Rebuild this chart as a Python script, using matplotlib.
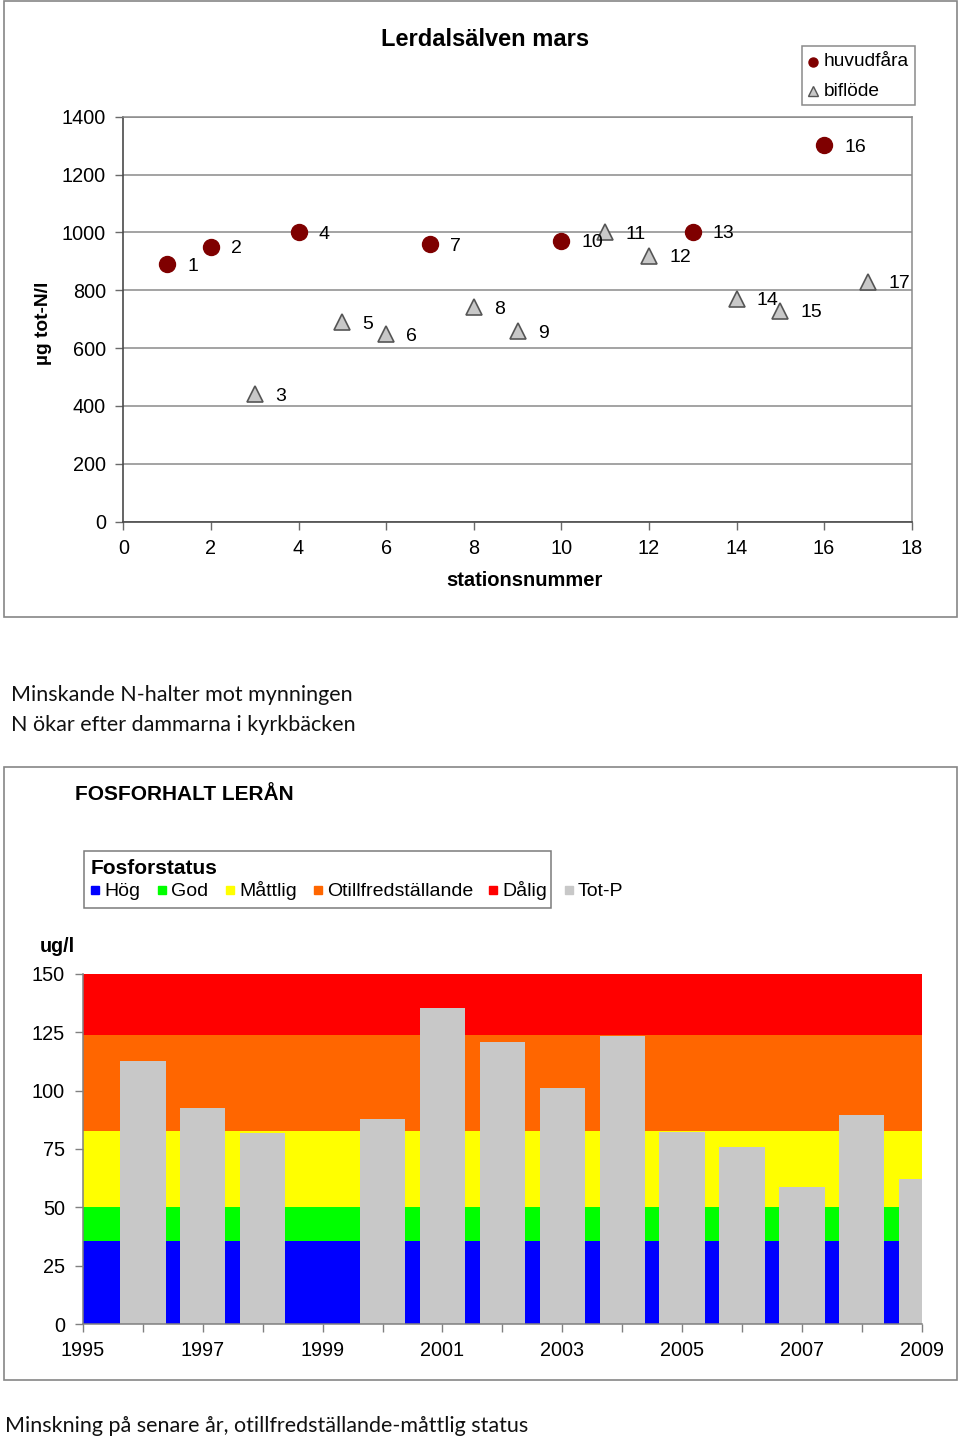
import numpy as np
import matplotlib
matplotlib.use('Agg')
import matplotlib.pyplot as plt
from matplotlib.patches import Rectangle
from matplotlib.lines import Line2D

# ---------------- data ----------------
# Top chart: total nitrogen, Lerdalsälven in March
huvud_stations = [1, 2, 4, 7, 10, 13, 16]
huvud_values = [890, 950, 1000, 960, 971, 1002, 1301]
biflode_stations = [3, 5, 6, 8, 9, 11, 12, 14, 15, 17]
biflode_values = [441, 690, 649, 741, 659, 1001, 920, 771, 730, 830]
top_xticks = list(range(0, 19, 2))
top_yticks = list(range(0, 1401, 200))

# Bottom chart: phosphorus, Lerån
years = list(range(1995, 2010))
totp = [np.nan, 112.7, 92.7, 82.0, np.nan, 88.0, 135.6, 120.7, 101.0, 123.3,
        82.2, 75.7, 58.9, 89.6, 62.3]
band_edges = [0, 35.5, 50, 82.6, 124, 150]
band_labels = ['Hög', 'God', 'Måttlig', 'Otillfredställande', 'Dålig']
band_colors = ['#0000FF', '#00FF00', '#FFFF00', '#FF6600', '#FF0000']
totp_label = 'Tot-P'
totp_color = '#C8C8C8'
bottom_yticks = list(range(0, 151, 25))

# ---------------- figure ----------------
W, H = 960, 1440
plt.rcParams['font.family'] = ['Liberation Sans', 'DejaVu Sans']
fig = plt.figure(figsize=(W / 100, H / 100), dpi=100)
fig.patch.set_facecolor('white')


def fx(x):
    return x / W


def fy(y):
    return 1 - y / H


def box(x0, y0, x1, y1, color='#868686', lw=1.2):
    r = Rectangle((fx(x0), fy(y1)), (x1 - x0) / W, (y1 - y0) / H, fill=False,
                  edgecolor=color, linewidth=lw, transform=fig.transFigure)
    fig.add_artist(r)


# outer frames
box(4, 1, 957, 617)
box(4, 767, 957, 1380)

# ---------------- top chart ----------------
ax1 = fig.add_axes([fx(123.3), fy(521.7), (911.7 - 123.3) / W, 405 / H])
ax1.set_xlim(0, 18)
ax1.set_ylim(0, 1400)
ax1.set_xticks(top_xticks)
ax1.set_yticks(top_yticks)
ax1.yaxis.grid(True, color='#8a8a8a', linewidth=1.1)
ax1.set_axisbelow(True)
for s in ['top', 'right']:
    ax1.spines[s].set_color('#8a8a8a')
    ax1.spines[s].set_linewidth(1.1)
for s in ['left', 'bottom']:
    ax1.spines[s].set_color('#4a4a4a')
    ax1.spines[s].set_linewidth(1.2)
ax1.tick_params(axis='both', direction='out', length=6, width=1, color='#6a6a6a',
                labelsize=14.3, pad=6.5)
ax1.tick_params(axis='y', pad=6.5)

ax1.plot(huvud_stations, huvud_values, 'o', ms=11.5, color='#7F0000',
         mec='#7F0000', clip_on=False, zorder=3)
ax1.plot(biflode_stations, biflode_values, '^', ms=11, mfc='#C8C8C8',
         mec='#555555', mew=1.2, clip_on=False, zorder=3)

for s, v in list(zip(huvud_stations, huvud_values)) + list(zip(biflode_stations, biflode_values)):
    ax1.annotate(str(s), (s, v), xytext=(14.5, -1.5), textcoords='offset points',
                 ha='left', va='center', fontsize=14, zorder=4)

fig.text(fx(485.5), fy(39), 'Lerdalsälven mars', ha='center', va='center',
         fontsize=17, weight='bold')
fig.text(fx(524.5), fy(581), 'stationsnummer', ha='center', va='center',
         fontsize=14.5, weight='bold')
fig.text(fx(43), fy(323), 'µg tot-N/l', ha='center', va='center',
         rotation=90, fontsize=13.8, weight='bold')

# top legend
box(802, 46, 915, 105, color='#8a8a8a', lw=1.1)
fig.add_artist(Line2D([fx(813)], [fy(62)], marker='o', ms=6.5, color='#7F0000',
                      transform=fig.transFigure))
fig.text(fx(824), fy(62), 'huvudfåra', ha='left', va='center', fontsize=13.8)
fig.add_artist(Line2D([fx(813)], [fy(91)], marker='^', ms=6.5, mfc='#C8C8C8',
                      mec='#555555', mew=1, transform=fig.transFigure))
fig.text(fx(824), fy(91.5), 'biflöde', ha='left', va='center', fontsize=13.8)

# ---------------- middle text ----------------
fig.text(fx(11), fy(695), 'Minskande N-halter mot mynningen', ha='left',
         va='center', fontsize=15.5, family=['Lato', 'DejaVu Sans'], color='#111111')
fig.text(fx(11), fy(725), 'N ökar efter dammarna i kyrkbäcken', ha='left',
         va='center', fontsize=15.5, family=['Lato', 'DejaVu Sans'], color='#111111')

# ---------------- bottom chart ----------------
fig.text(fx(75), fy(794), 'FOSFORHALT LERÅN', ha='left', va='center',
         fontsize=15, weight='bold')

box(84, 851, 551, 908, color='#7a7a7a', lw=1.1)
fig.text(fx(91), fy(869), 'Fosforstatus', ha='left', va='center',
         fontsize=15, weight='bold')
leg_x = [95, 162, 230, 318, 493, 569]
leg_labels = band_labels + [totp_label]
leg_colors = band_colors + [totp_color]
for x, lab, c in zip(leg_x, leg_labels, leg_colors):
    fig.add_artist(Line2D([fx(x)], [fy(890)], marker='s', ms=6, color=c,
                          transform=fig.transFigure))
    fig.text(fx(x + 9), fy(891), lab, ha='left', va='center', fontsize=14)

fig.text(fx(57.5), fy(946), 'ug/l', ha='center', va='center', fontsize=14.2,
         weight='bold')

ax2 = fig.add_axes([fx(83), fy(1324), (921.7 - 83) / W, 350 / H])
ax2.set_xlim(years[0], years[-1])
ax2.set_ylim(0, 150)
for lo, hi, c in zip(band_edges[:-1], band_edges[1:], band_colors):
    ax2.axhspan(lo, hi, color=c, lw=0, zorder=0)
ax2.bar(years, totp, width=0.755, color=totp_color, linewidth=0, zorder=2)
ax2.set_xticks(years)
ax2.set_xticklabels([str(y) if i % 2 == 0 else '' for i, y in enumerate(years)])
ax2.set_yticks(bottom_yticks)
for s in ['top', 'right']:
    ax2.spines[s].set_visible(False)
for s in ['left', 'bottom']:
    ax2.spines[s].set_color('#808080')
    ax2.spines[s].set_linewidth(1.1)
ax2.tick_params(axis='both', direction='out', length=6, width=1, color='#808080',
                labelsize=14.3, pad=6.5)
ax2.tick_params(axis='y', pad=7)

fig.text(fx(5), fy(1426), 'Minskning på senare år, otillfredställande-måttlig status',
         ha='left', va='center', fontsize=15.5, family=['Lato', 'DejaVu Sans'],
         color='#111111')

fig.savefig('out.png', dpi=100, facecolor='white')
